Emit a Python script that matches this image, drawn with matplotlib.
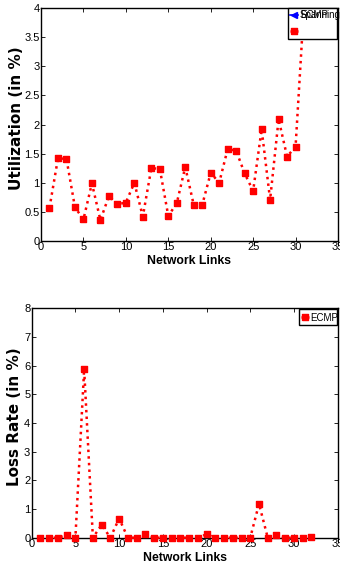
import matplotlib
matplotlib.use("Agg")
import matplotlib.pyplot as plt
from matplotlib.patches import Rectangle
from matplotlib.lines import Line2D

# ---- data ----
links_util = list(range(1, 32))
ecmp_util = [0.57, 1.42, 1.41, 0.58, 0.37, 0.99, 0.36, 0.77, 0.63, 0.66,
             1.00, 0.42, 1.25, 1.24, 0.43, 0.65, 1.27, 0.62, 0.62, 1.17,
             1.00, 1.58, 1.55, 1.16, 0.86, 1.92, 0.71, 2.09, 1.45, 1.62,
             4.05]
links_loss = list(range(1, 33))
ecmp_loss = [0, 0, 0, 0.08, 0, 5.88, 0, 0.45, 0, 0.67,
             0, 0, 0.12, 0, 0, 0, 0, 0, 0, 0.12,
             0, 0, 0, 0, 0, 1.18, 0, 0.08, 0, 0,
             0, 0.02]
xticks = [0, 5, 10, 15, 20, 25, 30, 35]
yticks_util = [0, 0.5, 1, 1.5, 2, 2.5, 3, 3.5, 4]
yticks_loss = [0, 1, 2, 3, 4, 5, 6, 7, 8]
legend_top = ["Spanning", "ECMP"]
legend_bottom = ["ECMP"]

tick_font = ["Liberation Sans Narrow", "Liberation Sans", "DejaVu Sans"]
xlabel_font = ["Liberation Sans", "DejaVu Sans"]
ylabel_font = ["DejaVu Sans"]

# slightly tall square marker (figure looks horizontally squeezed)
tall_square = [(-0.4, -0.5), (0.4, -0.5), (0.4, 0.5), (-0.4, 0.5), (-0.4, -0.5)]

fig = plt.figure(figsize=(3.4, 5.69), dpi=100)
ax1 = fig.add_axes([0.1206, 0.5764, 0.8735, 0.4095])
ax2 = fig.add_axes([0.0932, 0.055, 0.90, 0.403])

def style(ax, yticks, ylim, ylabel, ylab_x):
    ax.set_xlim(0, 35)
    ax.set_ylim(*ylim)
    ax.set_xticks(xticks)
    ax.set_yticks(yticks)
    ax.set_xticklabels([f"{t:g}" for t in xticks], family=tick_font, fontsize=8)
    ax.set_yticklabels([f"{t:g}" for t in yticks], family=tick_font, fontsize=8)
    ax.tick_params(direction="in", top=True, right=True, length=3, width=0.6, pad=1)
    for s in ax.spines.values():
        s.set_linewidth(1.0)
    ax.set_xlabel("Network Links", family=xlabel_font, fontweight="bold", fontsize=8.8)
    ax.set_ylabel(ylabel, family=ylabel_font, fontweight="bold", fontsize=11)
    ax.xaxis.set_label_coords(0.5, -0.062)
    ax.yaxis.set_label_coords(ylab_x, 0.528)

line_kw = dict(color="red", linestyle=":", linewidth=1.8, marker=tall_square, markersize=5,
               markeredgecolor="red", markerfacecolor="red", zorder=3)
ax1.plot(links_util, ecmp_util, **line_kw)
style(ax1, yticks_util, (0, 4), "Utilization (in %)", -0.058)

ax2.plot(links_loss, ecmp_loss, clip_on=False, **line_kw)
style(ax2, yticks_loss, (0, 8), "Loss Rate (in %)", -0.031)

# ---- top legend (manual, MATLAB look with overlapped labels) ----
ax1.add_patch(Rectangle((0.832, 0.867), 0.163, 0.133, transform=ax1.transAxes,
                        facecolor="white", edgecolor="black", linewidth=1.0,
                        zorder=10, clip_on=False))
ax1.add_line(Line2D([0.840, 0.866], [0.970, 0.970], transform=ax1.transAxes,
                    color="blue", linewidth=1.2, zorder=11))
ax1.add_line(Line2D([0.852], [0.970], transform=ax1.transAxes, color="blue",
                    marker="<", markersize=5, zorder=11))
ax1.add_line(Line2D([0.840, 0.866], [0.901, 0.901], transform=ax1.transAxes,
                    color="red", linewidth=1.8, linestyle=":", zorder=11))
ax1.add_line(Line2D([0.852], [0.901], transform=ax1.transAxes, color="red",
                    marker=tall_square, markersize=5, zorder=11))
for lab in legend_top:
    ax1.text(0.872, 0.968, lab, transform=ax1.transAxes, family=tick_font,
             fontsize=7, va="center", ha="left", zorder=12)

# ---- bottom legend ----
ax2.add_patch(Rectangle((0.873, 0.927), 0.124, 0.070, transform=ax2.transAxes,
                        facecolor="white", edgecolor="black", linewidth=1.0,
                        zorder=10, clip_on=False))
ax2.add_line(Line2D([0.880, 0.905], [0.962, 0.962], transform=ax2.transAxes,
                    color="red", linewidth=1.8, linestyle=":", zorder=11))
ax2.add_line(Line2D([0.893], [0.962], transform=ax2.transAxes, color="red",
                    marker=tall_square, markersize=5, zorder=11))
ax2.text(0.910, 0.960, legend_bottom[0], transform=ax2.transAxes, family=tick_font,
         fontsize=7, va="center", ha="left", zorder=12)

fig.savefig("out.png", dpi=100)
